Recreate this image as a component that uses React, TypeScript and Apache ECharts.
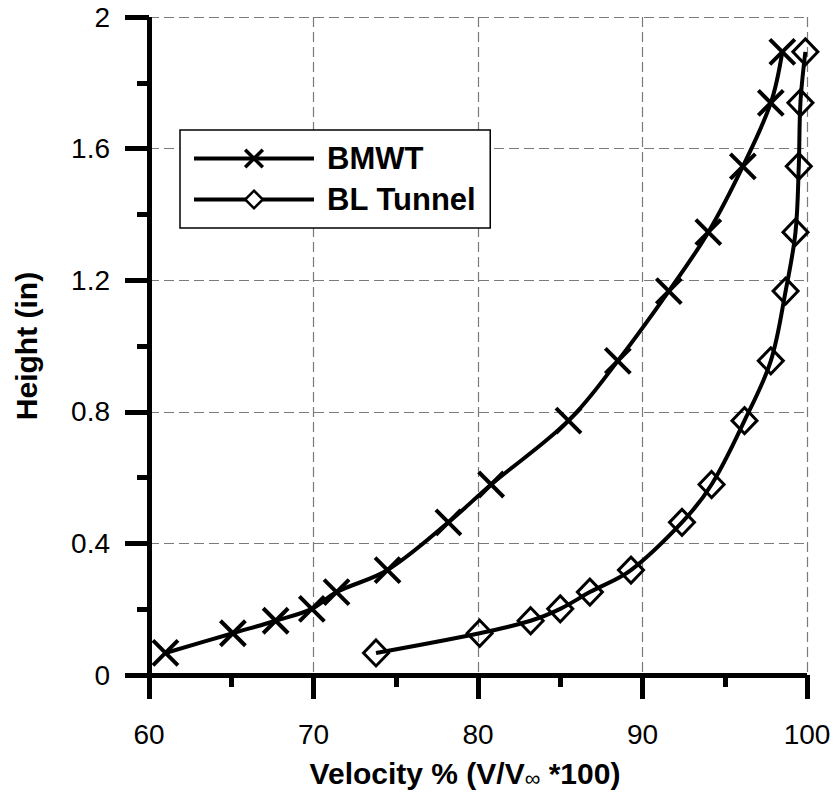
import React, { useEffect, useRef } from "react";
import * as echarts from "echarts";

const heights = [0.067, 0.127, 0.165, 0.201, 0.252, 0.319, 0.464, 0.579, 0.773, 0.955, 1.167, 1.346, 1.546, 1.739, 1.894];
const bmwtVelocity = [61.0, 65.1, 67.7, 69.9, 71.4, 74.5, 78.2, 80.8, 85.5, 88.5, 91.6, 94.0, 96.1, 97.8, 98.5];
const blTunnelVelocity = [73.8, 80.1, 83.2, 85.0, 86.8, 89.3, 92.4, 94.2, 96.2, 97.8, 98.7, 99.3, 99.5, 99.6, 99.9];
const seriesNames = ["BMWT", "BL Tunnel"];

const FONT = "'Liberation Sans', Arial, sans-serif";

export default function App() {
  const ref = useRef<HTMLDivElement>(null);
  useEffect(() => {
    if (!ref.current) return;
    const chart = echarts.init(ref.current, undefined, { renderer: "svg" });
    const toPairs = (xs: number[]) => xs.map((x, i) => [x, heights[i]]);
    const axisLineStyle = { color: "#000", width: 5, cap: "butt" as const };
    const splitLineStyle = { color: "#7a7a7a", width: 1.2, type: [10, 5] as any };
    const makeAxisParts = () => ({
      axisLine: { show: true, lineStyle: { ...axisLineStyle } },
      axisTick: { show: true, inside: false, length: 24, lineStyle: { color: "#000", width: 5 } },
      minorTick: { show: true, splitNumber: 2, length: 12, lineStyle: { color: "#000", width: 5 } },
      splitLine: { show: true, lineStyle: { ...splitLineStyle } },
    });
    chart.setOption({
      animation: false,
      backgroundColor: "#fff",
      textStyle: { fontFamily: FONT },
      grid: { left: 149, top: 17, width: 658, height: 660, containLabel: false },
      legend: {
        orient: "vertical",
        left: 180,
        top: 130,
        backgroundColor: "#fff",
        borderColor: "#000",
        borderWidth: 1.5,
        borderRadius: 0,
        padding: [13, 14, 13, 12],
        itemWidth: 120,
        itemHeight: 22,
        itemGap: 10,
        lineStyle: { color: "#000", width: 4 },
        textStyle: { fontSize: 31, fontWeight: "bold", color: "#000", fontFamily: FONT, padding: [0, 0, 0, 8] },
        data: [
          { name: seriesNames[0], itemStyle: { color: "#000", borderColor: "#000", borderWidth: 3.5 } },
          { name: seriesNames[1], itemStyle: { color: "#fff", borderColor: "#000", borderWidth: 2.5 } },
        ],
      },
      xAxis: {
        type: "value",
        min: 60,
        max: 100,
        interval: 10,
        name: "Velocity % (V/V{sub|∞} *100)",
        nameLocation: "middle",
        nameGap: 82,
        nameTextStyle: {
          fontSize: 30,
          fontWeight: "bold",
          color: "#000",
          fontFamily: FONT,
          padding: [0, 26, 0, 0],
          rich: {
            sub: { fontSize: 22, fontWeight: "normal", color: "#000", fontFamily: FONT, padding: [10, 0, 0, 0], verticalAlign: "bottom" },
          },
        },
        ...makeAxisParts(),
        axisLabel: { fontSize: 28, color: "#000", fontFamily: FONT, margin: 45 },
      },
      yAxis: {
        type: "value",
        min: 0,
        max: 2,
        interval: 0.4,
        name: "Height (in)",
        nameLocation: "middle",
        nameGap: 108,
        nameTextStyle: { fontSize: 30, fontWeight: "bold", color: "#000", fontFamily: FONT },
        ...makeAxisParts(),
        axisLabel: { fontSize: 28, color: "#000", fontFamily: FONT, margin: 39 },
      },
      series: [
        {
          name: seriesNames[0],
          type: "line",
          data: toPairs(bmwtVelocity),
          smooth: 0.35,
          symbol: "path://M0 0L10 10M10 0L0 10",
          symbolSize: 25,
          lineStyle: { color: "#000", width: 4 },
          itemStyle: { color: "#000", borderColor: "#000", borderWidth: 4 },
        },
        {
          name: seriesNames[1],
          type: "line",
          data: toPairs(blTunnelVelocity),
          smooth: 0.35,
          symbol: "diamond",
          symbolSize: [25, 26],
          lineStyle: { color: "#000", width: 4 },
          itemStyle: { color: "rgba(255,255,255,0)", borderColor: "#000", borderWidth: 3 },
        },
      ],
    });
    return () => chart.dispose();
  }, []);
  return <div ref={ref} style={{ position: "fixed", left: 0, top: 0, width: 835, height: 794 }} />;
}
